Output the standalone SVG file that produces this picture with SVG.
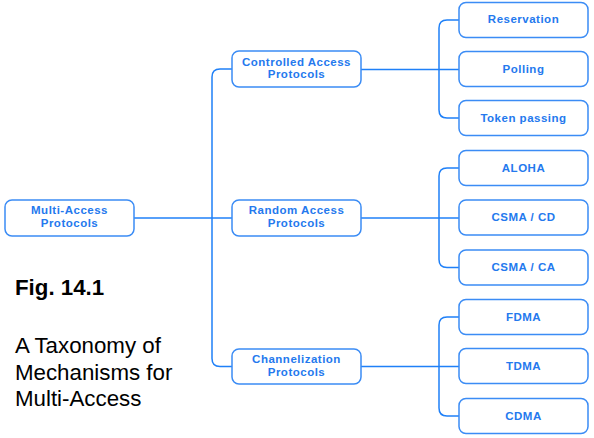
<svg xmlns="http://www.w3.org/2000/svg" width="594" height="438" viewBox="0 0 594 438">
<style>
.box{fill:#ffffff;stroke:#3b8cf5;stroke-width:1.5}
.lbl{font-family:"Liberation Sans",Arial,sans-serif;font-weight:bold;font-size:11.5px;fill:#2479ee;text-anchor:middle;letter-spacing:0.5px}
.con{fill:none;stroke:#1f80f8;stroke-width:1.5}
.cap{font-family:"Liberation Sans",Arial,sans-serif;font-size:22.3px;fill:#000000}
</style>
<rect width="594" height="438" fill="#ffffff"/>
<g id="connectors">
<path class="con" d="M134 218H232"/>
<path class="con" d="M232 69H220Q212 69 212 77V358.5Q212 366.5 220 366.5H232"/>
<path class="con" d="M361 69.5H459"/>
<path class="con" d="M459 20H447Q439 20 439 28V110Q439 118 447 118H459"/>
<path class="con" d="M361 218H459"/>
<path class="con" d="M459 168H447Q439 168 439 176V259.5Q439 267.5 447 267.5H459"/>
<path class="con" d="M361 366.5H459"/>
<path class="con" d="M459 317H447Q439 317 439 325V408Q439 416 447 416H459"/>
</g>
<g id="root"><rect class="box" x="5" y="200" width="129" height="36" rx="7"/><text class="lbl" x="69.5" y="214">Multi-Access</text><text class="lbl" x="69.5" y="227">Protocols</text></g>
<g id="controlled"><rect class="box" x="232" y="51" width="129" height="36" rx="7"/><text class="lbl" x="296.5" y="65.5">Controlled Access</text><text class="lbl" x="296.5" y="78">Protocols</text></g>
<g id="random"><rect class="box" x="232" y="200" width="129" height="36" rx="7"/><text class="lbl" x="296.5" y="214">Random Access</text><text class="lbl" x="296.5" y="226.5">Protocols</text></g>
<g id="channelization"><rect class="box" x="232" y="349" width="129" height="35" rx="7"/><text class="lbl" x="296.5" y="363">Channelization</text><text class="lbl" x="296.5" y="375.5">Protocols</text></g>
<g id="reservation"><rect class="box" x="459" y="2.5" width="129" height="35" rx="7"/><text class="lbl" x="523.5" y="23">Reservation</text></g>
<g id="polling"><rect class="box" x="459" y="51.5" width="129" height="35" rx="7"/><text class="lbl" x="523.5" y="72.5">Polling</text></g>
<g id="token"><rect class="box" x="459" y="100.5" width="129" height="35" rx="7"/><text class="lbl" x="523.5" y="121.5">Token passing</text></g>
<g id="aloha"><rect class="box" x="459" y="150.5" width="129" height="35" rx="7"/><text class="lbl" x="523.5" y="171.5">ALOHA</text></g>
<g id="csmacd"><rect class="box" x="459" y="200" width="129" height="35" rx="7"/><text class="lbl" x="523.5" y="221">CSMA / CD</text></g>
<g id="csmaca"><rect class="box" x="459" y="250" width="129" height="35" rx="7"/><text class="lbl" x="523.5" y="271">CSMA / CA</text></g>
<g id="fdma"><rect class="box" x="459" y="299.5" width="129" height="35" rx="7"/><text class="lbl" x="523.5" y="320.5">FDMA</text></g>
<g id="tdma"><rect class="box" x="459" y="348.5" width="129" height="35" rx="7"/><text class="lbl" x="523.5" y="369.5">TDMA</text></g>
<g id="cdma"><rect class="box" x="459" y="398.5" width="129" height="35" rx="7"/><text class="lbl" x="523.5" y="419.5">CDMA</text></g>
<g id="caption">
<text class="cap" x="15" y="295" font-weight="bold">Fig. 14.1</text>
<text class="cap" x="15" y="353">A Taxonomy of</text>
<text class="cap" x="15" y="379.5">Mechanisms for</text>
<text class="cap" x="15" y="406">Multi-Access</text>
</g>
</svg>
